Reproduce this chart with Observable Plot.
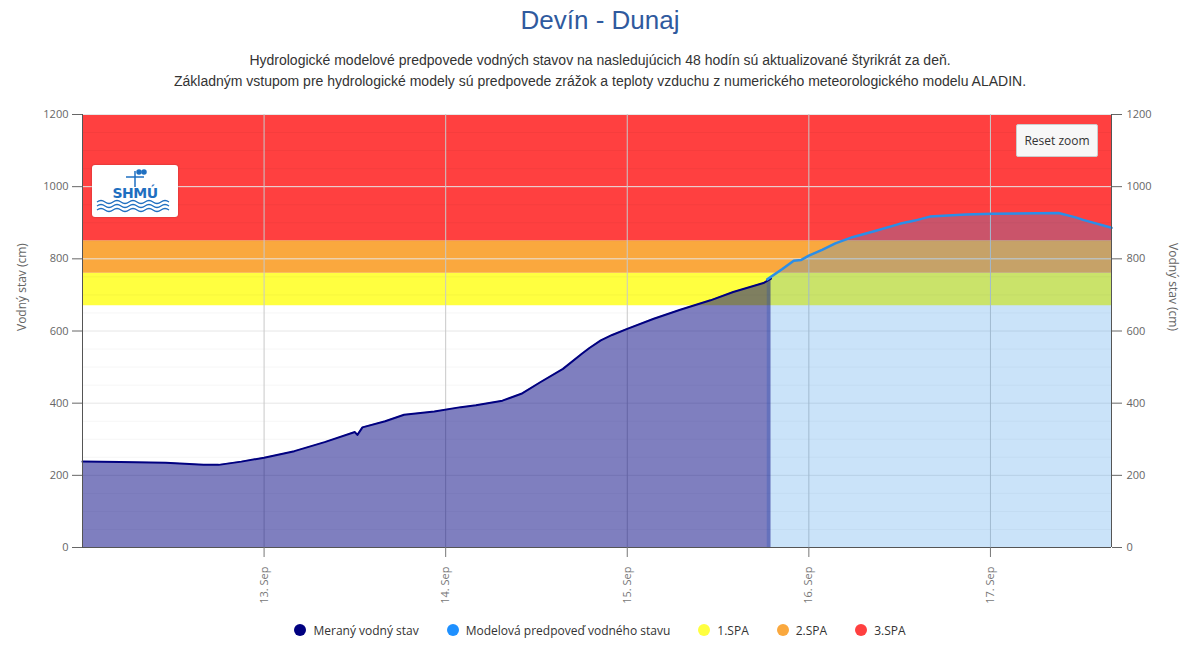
<!DOCTYPE html>
<html>
<head>
<meta charset="utf-8">
<script src="https://cdn.jsdelivr.net/npm/d3@7"></script>
<script src="https://cdn.jsdelivr.net/npm/@observablehq/plot@0.6"></script>
<style>
  html, body { margin: 0; padding: 0; background: #fff; }
  body { width: 1200px; height: 662px; position: relative; overflow: hidden; }
  #header { height: 100px; text-align: center; }
  #title { font-family: "Liberation Sans", Arial, sans-serif; font-size: 26px; color: #2f5a9e; line-height: 40px; }
  #subtitle { font-family: "Liberation Sans", Arial, sans-serif; font-size: 14px; color: #333; line-height: 21px; padding-top: 10px; }
  #chart svg { display: block; }
  #legend { height: 40px; display: flex; justify-content: center; align-items: center; gap: 28px;
            font-family: "Open Sans", sans-serif; font-size: 12px; color: #333; padding-left: 0px; }
  .item { display: flex; align-items: center; }
  .dot { width: 12px; height: 12px; border-radius: 50%; margin-right: 7px; }
  #logo { position: absolute; left: 92px; top: 165px; width: 86px; height: 52px; background: #fff;
          border-radius: 3px; box-shadow: 0 0 2px rgba(0,0,0,0.3); }
  #reset { position: absolute; left: 1016px; top: 124px; width: 82px; height: 33px; background: #f7f7f7;
           border: 1px solid #ccc; border-radius: 2px; font-family: "Open Sans", sans-serif; font-size: 12px;
           color: #333; display: flex; align-items: center; justify-content: center; box-sizing: border-box; }
</style>
</head>
<body>
<div id="header">
  <div id="title">Devín - Dunaj</div>
  <div id="subtitle">Hydrologické modelové predpovede vodných stavov na nasledujúcich 48 hodín sú aktualizované štyrikrát za deň.<br>Základným vstupom pre hydrologické modely sú predpovede zrážok a teploty vzduchu z numerického meteorologického modelu ALADIN.</div>
</div>
<div id="chart"></div>
<div id="legend"></div>
<div id="logo">
  <svg width="86" height="52" viewBox="0 0 86 52">
    <g stroke="#1f6fc0" fill="none" stroke-width="1.5">
      <line x1="43" y1="6" x2="43" y2="22"/>
      <line x1="34" y1="12" x2="52" y2="12"/>
      <circle cx="47" cy="7" r="2" fill="#1f6fc0"/>
      <circle cx="52" cy="7" r="2" fill="#1f6fc0"/>
    </g>
    <text x="43" y="33" text-anchor="middle" font-family="DejaVu Sans" font-weight="bold" font-size="14" fill="#1f6fc0" letter-spacing="-0.5">SHMÚ</text>
    <g stroke="#1f6fc0" fill="none" stroke-width="1.3">
      <path d="M5 37 q4 -3 8 0 t8 0 t8 0 t8 0 t8 0 t8 0 t8 0 t8 0 t8 0"/>
      <path d="M5 41 q4 -3 8 0 t8 0 t8 0 t8 0 t8 0 t8 0 t8 0 t8 0 t8 0"/>
      <path d="M5 45 q4 -3 8 0 t8 0 t8 0 t8 0 t8 0 t8 0 t8 0 t8 0 t8 0"/>
    </g>
  </svg>
</div>
<div id="reset">Reset zoom</div>
<script>
// ---- data ----
const measuredTimes = ["2024-09-12T00:00","2024-09-12T05:00","2024-09-12T11:00","2024-09-12T16:00","2024-09-12T18:00",
  "2024-09-12T21:00","2024-09-13T00:00","2024-09-13T04:00","2024-09-13T08:00","2024-09-13T12:00","2024-09-13T12:20",
  "2024-09-13T13:00","2024-09-13T16:00","2024-09-13T18:30","2024-09-13T22:30","2024-09-14T02:00","2024-09-14T04:00",
  "2024-09-14T07:30","2024-09-14T10:00","2024-09-14T12:30","2024-09-14T15:30","2024-09-14T18:00","2024-09-14T19:00",
  "2024-09-14T20:30","2024-09-14T22:00","2024-09-15T00:00","2024-09-15T03:30","2024-09-15T07:00","2024-09-15T11:00",
  "2024-09-15T14:00","2024-09-15T18:00","2024-09-15T19:00"];
const measuredValues = [238,237,235,229,229,238,249,267,292,320,312,333,350,368,377,389,394,407,426,458,495,537,553,
  574,589,606,634,659,685,708,733,745];

const forecastTimes = ["2024-09-15T18:30","2024-09-15T20:30","2024-09-15T22:00","2024-09-15T23:00","2024-09-16T00:00",
  "2024-09-16T01:45","2024-09-16T03:30","2024-09-16T05:45","2024-09-16T08:45","2024-09-16T12:00","2024-09-16T14:00",
  "2024-09-16T16:00","2024-09-16T20:45","2024-09-17T00:15","2024-09-17T09:00","2024-09-17T11:15","2024-09-17T12:15",
  "2024-09-17T16:00"];
const forecastValues = [743,772,795,797,809,825,843,860,877,897,906,917,923,925,927,915,908,886];

const bandNames = ["1.SPA","2.SPA","3.SPA"];
const bandFrom = [670,760,850];
const bandTo = [760,850,1200];
const bandColors = ["#ffff40","#faa83e","#ff4040"];

const seriesNames = ["Meraný vodný stav","Modelová predpoveď vodného stavu"];
const seriesColors = ["#000080","#2b8ee8"];

const xTickDates = ["2024-09-13","2024-09-14","2024-09-15","2024-09-16","2024-09-17"];
const yTicks = [0,200,400,600,800,1000,1200];
const yMinorTicks = d3.range(0,1201,50).filter(v => v % 200 !== 0);
const xDomain = ["2024-09-12T00:00","2024-09-17T16:00"];
const yLabel = "Vodný stav (cm)";

// ---- build ----
const t = s => new Date(s + (s.length === 10 ? "T00:00Z" : "Z"));
const measured = measuredTimes.map((d,i) => ({date: t(d), value: measuredValues[i]}));
const forecast = forecastTimes.map((d,i) => ({date: t(d), value: forecastValues[i]}));
const x0 = t(xDomain[0]), x1 = t(xDomain[1]);
const bands = bandNames.map((n,i) => ({name: n, y1: bandFrom[i], y2: bandTo[i], x1: x0, x2: x1, color: bandColors[i]}));
const xTicks = xTickDates.map(t);

const chart = Plot.plot({
  width: 1200,
  height: 510,
  marginLeft: 82,
  marginRight: 89,
  marginTop: 14,
  marginBottom: 63,
  style: {fontFamily: "Open Sans, sans-serif", fontSize: "11px", color: "#666", background: "transparent"},
  x: {type: "utc", domain: [x0, x1]},
  y: {domain: [0, 1200]},
  marks: [
    Plot.rect(bands, {x1: "x1", x2: "x2", y1: "y1", y2: "y2", fill: "color"}),
    Plot.gridY({ticks: yMinorTicks, stroke: "#000", strokeOpacity: 0.04}),
    Plot.gridY({ticks: yTicks, stroke: "#e6e6e6", strokeOpacity: 1}),
    Plot.gridX({ticks: xTicks, stroke: "#c8c8c8", strokeOpacity: 1}),
    Plot.areaY(forecast, {x: "date", y: "value", fill: seriesColors[1], fillOpacity: 0.25}),
    Plot.areaY(measured, {x: "date", y: "value", fill: seriesColors[0], fillOpacity: 0.5}),
    Plot.lineY(measured, {x: "date", y: "value", stroke: seriesColors[0], strokeWidth: 2}),
    Plot.lineY(forecast, {x: "date", y: "value", stroke: seriesColors[1], strokeWidth: 2.5}),
    Plot.ruleX([x0, x1], {stroke: "#555"}),
    Plot.ruleY([0], {stroke: "#555"}),
    Plot.axisY({anchor: "left", ticks: yTicks, tickFormat: d => String(d), tickSize: 10, tickPadding: 4, label: null, color: "#666"}),
    Plot.axisY({anchor: "right", ticks: yTicks, tickFormat: d => String(d), tickSize: 10, tickPadding: 5, label: null, color: "#666"}),
    Plot.axisX({ticks: xTicks, tickFormat: d3.utcFormat("%-d. %b"), tickRotate: -90, tickSize: 10, tickPadding: 9, label: null, color: "#777"}),
    Plot.text([yLabel], {text: d => d, frameAnchor: "left", dx: -60, rotate: -90, fill: "#666", fontSize: 12}),
    Plot.text([yLabel], {text: d => d, frameAnchor: "right", dx: 61, rotate: 90, fill: "#666", fontSize: 12})
  ]
});
document.getElementById("chart").appendChild(chart);

// ---- legend ----
const legendItems = [
  ...seriesNames.map((n,i) => ({name: n, color: i === 1 ? "#1e90ff" : seriesColors[i]})),
  ...bandNames.map((n,i) => ({name: n, color: bandColors[i]}))
];
const legend = document.getElementById("legend");
for (const it of legendItems) {
  const el = document.createElement("div");
  el.className = "item";
  const dot = document.createElement("span");
  dot.className = "dot";
  dot.style.background = it.color;
  const lab = document.createElement("span");
  lab.textContent = it.name;
  el.appendChild(dot); el.appendChild(lab);
  legend.appendChild(el);
}
</script>
</body>
</html>
